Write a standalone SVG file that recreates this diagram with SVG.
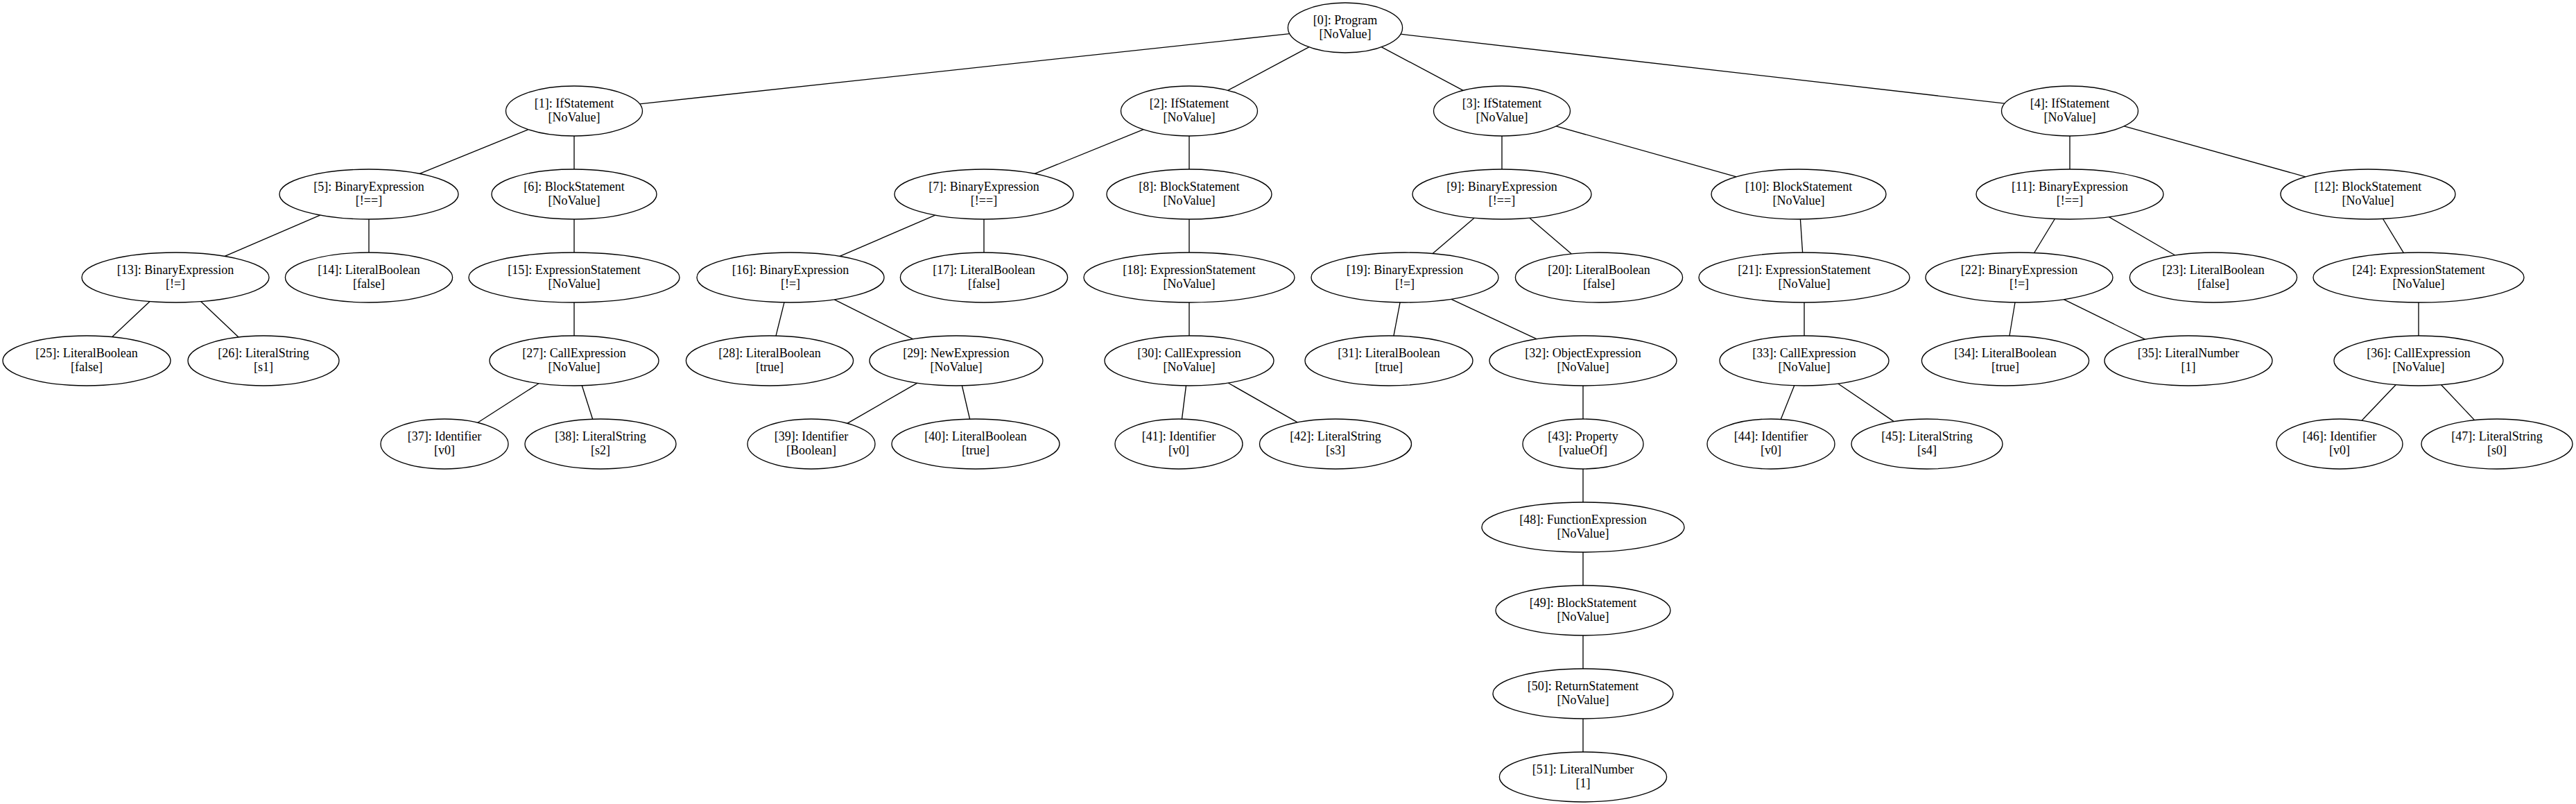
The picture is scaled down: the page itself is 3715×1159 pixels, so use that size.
<svg xmlns="http://www.w3.org/2000/svg" width="3715" height="1159" viewBox="0 0 3715 1159">
<style>
.bg{fill:#ffffff}
.n ellipse{fill:#ffffff;stroke:#000000;stroke-width:1.33}
.n text{font-family:"Liberation Serif","Times New Roman",serif;font-size:18px;fill:#000000;text-anchor:middle}
#edges line{stroke:#000000;stroke-width:1.33;fill:none}
</style>
<rect class="bg" x="0" y="0" width="3715" height="1159"/>
<g id="edges">
<line x1="1859.8" y1="48.7" x2="922.5" y2="149.8"/>
<line x1="1887.7" y1="67.9" x2="1770.7" y2="130.3"/>
<line x1="1992.5" y1="67.9" x2="2110.1" y2="130.3"/>
<line x1="2019.9" y1="49.2" x2="2891" y2="149.2"/>
<line x1="762.1" y1="186.7" x2="605.1" y2="250.3"/>
<line x1="828" y1="196" x2="828" y2="244"/>
<line x1="1649.1" y1="186.7" x2="1492.1" y2="250.3"/>
<line x1="1715" y1="196" x2="1715" y2="244"/>
<line x1="2166" y1="196" x2="2166" y2="244"/>
<line x1="2244.2" y1="181.9" x2="2504.1" y2="254.8"/>
<line x1="2985" y1="196" x2="2985" y2="244"/>
<line x1="3063.3" y1="181.9" x2="3324.9" y2="254.8"/>
<line x1="461.8" y1="310.2" x2="324.1" y2="369.4"/>
<line x1="532" y1="316" x2="532" y2="364"/>
<line x1="828" y1="316" x2="828" y2="364"/>
<line x1="1348.8" y1="310.2" x2="1211.1" y2="369.4"/>
<line x1="1419" y1="316" x2="1419" y2="364"/>
<line x1="1715" y1="316" x2="1715" y2="364"/>
<line x1="2126.1" y1="314.2" x2="2066.1" y2="365.6"/>
<line x1="2205.9" y1="314.2" x2="2266.3" y2="366"/>
<line x1="2596.4" y1="316" x2="2599.6" y2="364"/>
<line x1="2963.4" y1="315.5" x2="2933.6" y2="364.5"/>
<line x1="3041.4" y1="312.7" x2="3136.8" y2="368"/>
<line x1="3436.6" y1="315.5" x2="3466.3" y2="364.4"/>
<line x1="216.1" y1="434.6" x2="161.6" y2="485.7"/>
<line x1="289.6" y1="434.6" x2="344" y2="486"/>
<line x1="828" y1="436" x2="828" y2="484"/>
<line x1="1131" y1="435.9" x2="1119" y2="484.1"/>
<line x1="1203.3" y1="431.8" x2="1316.8" y2="488.8"/>
<line x1="1715" y1="436" x2="1715" y2="484"/>
<line x1="2019.1" y1="435.9" x2="2009.9" y2="484.1"/>
<line x1="2093" y1="431.3" x2="2216" y2="488.7"/>
<line x1="2602" y1="436" x2="2602" y2="484"/>
<line x1="2906" y1="436" x2="2898" y2="484"/>
<line x1="2976.3" y1="431.6" x2="3093.4" y2="489.2"/>
<line x1="3488" y1="436" x2="3488" y2="484"/>
<line x1="777" y1="552.7" x2="688.9" y2="609.3"/>
<line x1="839.2" y1="555.5" x2="854.7" y2="604.2"/>
<line x1="1322.9" y1="552.2" x2="1221.8" y2="610.3"/>
<line x1="1387.4" y1="556" x2="1398.6" y2="604"/>
<line x1="1710.5" y1="556" x2="1704.5" y2="604"/>
<line x1="1771.2" y1="552" x2="1871.2" y2="608.8"/>
<line x1="2283" y1="556" x2="2283" y2="604"/>
<line x1="2587.7" y1="555.7" x2="2568.2" y2="604.4"/>
<line x1="2650.7" y1="553" x2="2731.3" y2="607.6"/>
<line x1="3455.1" y1="554.7" x2="3406" y2="606.3"/>
<line x1="3520.6" y1="554.7" x2="3568.6" y2="605.6"/>
<line x1="2283" y1="676" x2="2283" y2="724"/>
<line x1="2283" y1="796" x2="2283" y2="844"/>
<line x1="2283" y1="916" x2="2283" y2="964"/>
<line x1="2283" y1="1036" x2="2283" y2="1084"/>
</g>
<g id="n0" class="n"><ellipse cx="1940" cy="40" rx="82.6" ry="36"/><text x="1940" y="35">[0]: Program</text><text x="1940" y="55">[NoValue]</text></g>
<g id="n1" class="n"><ellipse cx="828" cy="160" rx="98.5" ry="36"/><text x="828" y="155">[1]: IfStatement</text><text x="828" y="175">[NoValue]</text></g>
<g id="n2" class="n"><ellipse cx="1715" cy="160" rx="98.5" ry="36"/><text x="1715" y="155">[2]: IfStatement</text><text x="1715" y="175">[NoValue]</text></g>
<g id="n3" class="n"><ellipse cx="2166" cy="160" rx="98.5" ry="36"/><text x="2166" y="155">[3]: IfStatement</text><text x="2166" y="175">[NoValue]</text></g>
<g id="n4" class="n"><ellipse cx="2985" cy="160" rx="98.5" ry="36"/><text x="2985" y="155">[4]: IfStatement</text><text x="2985" y="175">[NoValue]</text></g>
<g id="n5" class="n"><ellipse cx="532" cy="280" rx="129" ry="36"/><text x="532" y="275">[5]: BinaryExpression</text><text x="532" y="295">[!==]</text></g>
<g id="n6" class="n"><ellipse cx="828" cy="280" rx="119" ry="36"/><text x="828" y="275">[6]: BlockStatement</text><text x="828" y="295">[NoValue]</text></g>
<g id="n7" class="n"><ellipse cx="1419" cy="280" rx="129" ry="36"/><text x="1419" y="275">[7]: BinaryExpression</text><text x="1419" y="295">[!==]</text></g>
<g id="n8" class="n"><ellipse cx="1715" cy="280" rx="119" ry="36"/><text x="1715" y="275">[8]: BlockStatement</text><text x="1715" y="295">[NoValue]</text></g>
<g id="n9" class="n"><ellipse cx="2166" cy="280" rx="129" ry="36"/><text x="2166" y="275">[9]: BinaryExpression</text><text x="2166" y="295">[!==]</text></g>
<g id="n10" class="n"><ellipse cx="2594" cy="280" rx="126" ry="36"/><text x="2594" y="275">[10]: BlockStatement</text><text x="2594" y="295">[NoValue]</text></g>
<g id="n11" class="n"><ellipse cx="2985" cy="280" rx="135" ry="36"/><text x="2985" y="275">[11]: BinaryExpression</text><text x="2985" y="295">[!==]</text></g>
<g id="n12" class="n"><ellipse cx="3415" cy="280" rx="126" ry="36"/><text x="3415" y="275">[12]: BlockStatement</text><text x="3415" y="295">[NoValue]</text></g>
<g id="n13" class="n"><ellipse cx="253" cy="400" rx="135" ry="36"/><text x="253" y="395">[13]: BinaryExpression</text><text x="253" y="415">[!=]</text></g>
<g id="n14" class="n"><ellipse cx="532" cy="400" rx="120.6" ry="36"/><text x="532" y="395">[14]: LiteralBoolean</text><text x="532" y="415">[false]</text></g>
<g id="n15" class="n"><ellipse cx="828" cy="400" rx="152" ry="36"/><text x="828" y="395">[15]: ExpressionStatement</text><text x="828" y="415">[NoValue]</text></g>
<g id="n16" class="n"><ellipse cx="1140" cy="400" rx="135" ry="36"/><text x="1140" y="395">[16]: BinaryExpression</text><text x="1140" y="415">[!=]</text></g>
<g id="n17" class="n"><ellipse cx="1419" cy="400" rx="120.6" ry="36"/><text x="1419" y="395">[17]: LiteralBoolean</text><text x="1419" y="415">[false]</text></g>
<g id="n18" class="n"><ellipse cx="1715" cy="400" rx="152" ry="36"/><text x="1715" y="395">[18]: ExpressionStatement</text><text x="1715" y="415">[NoValue]</text></g>
<g id="n19" class="n"><ellipse cx="2026" cy="400" rx="135" ry="36"/><text x="2026" y="395">[19]: BinaryExpression</text><text x="2026" y="415">[!=]</text></g>
<g id="n20" class="n"><ellipse cx="2306" cy="400" rx="120.6" ry="36"/><text x="2306" y="395">[20]: LiteralBoolean</text><text x="2306" y="415">[false]</text></g>
<g id="n21" class="n"><ellipse cx="2602" cy="400" rx="152" ry="36"/><text x="2602" y="395">[21]: ExpressionStatement</text><text x="2602" y="415">[NoValue]</text></g>
<g id="n22" class="n"><ellipse cx="2912" cy="400" rx="135" ry="36"/><text x="2912" y="395">[22]: BinaryExpression</text><text x="2912" y="415">[!=]</text></g>
<g id="n23" class="n"><ellipse cx="3192" cy="400" rx="120.6" ry="36"/><text x="3192" y="395">[23]: LiteralBoolean</text><text x="3192" y="415">[false]</text></g>
<g id="n24" class="n"><ellipse cx="3488" cy="400" rx="152" ry="36"/><text x="3488" y="395">[24]: ExpressionStatement</text><text x="3488" y="415">[NoValue]</text></g>
<g id="n25" class="n"><ellipse cx="125" cy="520" rx="121" ry="36"/><text x="125" y="515">[25]: LiteralBoolean</text><text x="125" y="535">[false]</text></g>
<g id="n26" class="n"><ellipse cx="380" cy="520" rx="109" ry="36"/><text x="380" y="515">[26]: LiteralString</text><text x="380" y="535">[s1]</text></g>
<g id="n27" class="n"><ellipse cx="828" cy="520" rx="122" ry="36"/><text x="828" y="515">[27]: CallExpression</text><text x="828" y="535">[NoValue]</text></g>
<g id="n28" class="n"><ellipse cx="1110" cy="520" rx="120.6" ry="36"/><text x="1110" y="515">[28]: LiteralBoolean</text><text x="1110" y="535">[true]</text></g>
<g id="n29" class="n"><ellipse cx="1379" cy="520" rx="125" ry="36"/><text x="1379" y="515">[29]: NewExpression</text><text x="1379" y="535">[NoValue]</text></g>
<g id="n30" class="n"><ellipse cx="1715" cy="520" rx="122" ry="36"/><text x="1715" y="515">[30]: CallExpression</text><text x="1715" y="535">[NoValue]</text></g>
<g id="n31" class="n"><ellipse cx="2003" cy="520" rx="121" ry="36"/><text x="2003" y="515">[31]: LiteralBoolean</text><text x="2003" y="535">[true]</text></g>
<g id="n32" class="n"><ellipse cx="2283" cy="520" rx="135" ry="36"/><text x="2283" y="515">[32]: ObjectExpression</text><text x="2283" y="535">[NoValue]</text></g>
<g id="n33" class="n"><ellipse cx="2602" cy="520" rx="122" ry="36"/><text x="2602" y="515">[33]: CallExpression</text><text x="2602" y="535">[NoValue]</text></g>
<g id="n34" class="n"><ellipse cx="2892" cy="520" rx="120.6" ry="36"/><text x="2892" y="515">[34]: LiteralBoolean</text><text x="2892" y="535">[true]</text></g>
<g id="n35" class="n"><ellipse cx="3156" cy="520" rx="121" ry="36"/><text x="3156" y="515">[35]: LiteralNumber</text><text x="3156" y="535">[1]</text></g>
<g id="n36" class="n"><ellipse cx="3488" cy="520" rx="122" ry="36"/><text x="3488" y="515">[36]: CallExpression</text><text x="3488" y="535">[NoValue]</text></g>
<g id="n37" class="n"><ellipse cx="641" cy="640" rx="92" ry="36"/><text x="641" y="635">[37]: Identifier</text><text x="641" y="655">[v0]</text></g>
<g id="n38" class="n"><ellipse cx="866" cy="640" rx="109" ry="36"/><text x="866" y="635">[38]: LiteralString</text><text x="866" y="655">[s2]</text></g>
<g id="n39" class="n"><ellipse cx="1170" cy="640" rx="92" ry="36"/><text x="1170" y="635">[39]: Identifier</text><text x="1170" y="655">[Boolean]</text></g>
<g id="n40" class="n"><ellipse cx="1407" cy="640" rx="121" ry="36"/><text x="1407" y="635">[40]: LiteralBoolean</text><text x="1407" y="655">[true]</text></g>
<g id="n41" class="n"><ellipse cx="1700" cy="640" rx="92" ry="36"/><text x="1700" y="635">[41]: Identifier</text><text x="1700" y="655">[v0]</text></g>
<g id="n42" class="n"><ellipse cx="1926" cy="640" rx="109.5" ry="36"/><text x="1926" y="635">[42]: LiteralString</text><text x="1926" y="655">[s3]</text></g>
<g id="n43" class="n"><ellipse cx="2283" cy="640" rx="87" ry="36"/><text x="2283" y="635">[43]: Property</text><text x="2283" y="655">[valueOf]</text></g>
<g id="n44" class="n"><ellipse cx="2554" cy="640" rx="92" ry="36"/><text x="2554" y="635">[44]: Identifier</text><text x="2554" y="655">[v0]</text></g>
<g id="n45" class="n"><ellipse cx="2779" cy="640" rx="109" ry="36"/><text x="2779" y="635">[45]: LiteralString</text><text x="2779" y="655">[s4]</text></g>
<g id="n46" class="n"><ellipse cx="3374" cy="640" rx="91" ry="36"/><text x="3374" y="635">[46]: Identifier</text><text x="3374" y="655">[v0]</text></g>
<g id="n47" class="n"><ellipse cx="3601" cy="640" rx="109" ry="36"/><text x="3601" y="635">[47]: LiteralString</text><text x="3601" y="655">[s0]</text></g>
<g id="n48" class="n"><ellipse cx="2283" cy="760" rx="146" ry="36"/><text x="2283" y="755">[48]: FunctionExpression</text><text x="2283" y="775">[NoValue]</text></g>
<g id="n49" class="n"><ellipse cx="2283" cy="880" rx="126" ry="36"/><text x="2283" y="875">[49]: BlockStatement</text><text x="2283" y="895">[NoValue]</text></g>
<g id="n50" class="n"><ellipse cx="2283" cy="1000" rx="130" ry="36"/><text x="2283" y="995">[50]: ReturnStatement</text><text x="2283" y="1015">[NoValue]</text></g>
<g id="n51" class="n"><ellipse cx="2283" cy="1120" rx="120.6" ry="36"/><text x="2283" y="1115">[51]: LiteralNumber</text><text x="2283" y="1135">[1]</text></g>
</svg>
